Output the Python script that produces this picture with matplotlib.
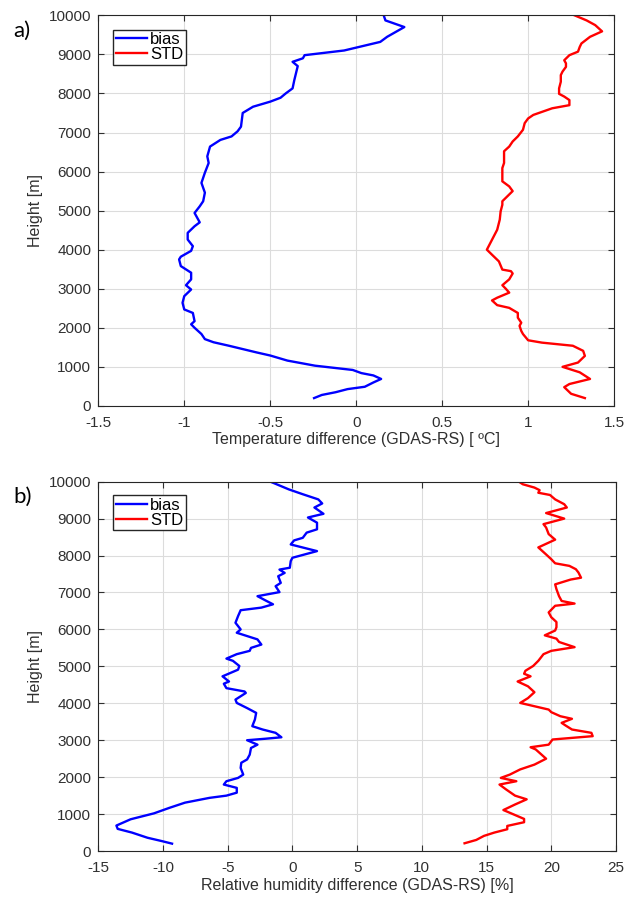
import matplotlib
matplotlib.use('Agg')
import matplotlib.pyplot as plt
import numpy as np

plt.rcParams['font.family'] = ['Liberation Sans', 'DejaVu Sans']
plt.rcParams['axes.unicode_minus'] = False

### Data

# a) temperature bias
t_bias_h = [10000, 9870, 9700, 9450, 9320, 9100, 8980, 8900, 8810, 8700, 8340, 8130, 8000, 7890,
            7790, 7660, 7580, 7500, 7150, 7030, 6900, 6810, 6640, 6390, 6220, 5970, 5710, 5460,
            5240, 5110, 4940, 4700, 4600, 4430, 4260, 4090, 3970, 3820, 3750, 3580, 3410, 3240,
            3090, 2980, 2810, 2640, 2470, 2380, 2170, 2090, 2000, 1840, 1710, 1630, 1540, 1370,
            1290, 1160, 1030, 920, 840, 780, 690, 600, 490, 430, 350, 280, 200]
t_bias = [0.16, 0.17, 0.28, 0.18, 0.14, -0.07, -0.30, -0.31, -0.37, -0.34, -0.36, -0.37, -0.41, -0.44,
          -0.50, -0.60, -0.63, -0.66, -0.67, -0.69, -0.725, -0.79, -0.85, -0.866, -0.858, -0.88, -0.90, -0.88,
          -0.89, -0.91, -0.94, -0.91, -0.94, -0.98, -0.98, -0.95, -0.96, -1.02, -1.03, -1.02, -0.96, -0.96,
          -0.99, -0.96, -1.0, -1.01, -1.0, -0.95, -0.94, -0.96, -0.94, -0.90, -0.88, -0.83, -0.74, -0.58,
          -0.50, -0.40, -0.24, -0.02, 0.03, 0.10, 0.145, 0.10, 0.05, -0.05, -0.12, -0.20, -0.245]

# a) temperature STD
t_std_h = [10000, 9870, 9750, 9590, 9450, 9280, 9190, 9070, 8980, 8850, 8770, 8680, 8560, 8470,
           8300, 8130, 7990, 7920, 7830, 7700, 7620, 7450, 7360, 7240, 7070, 6900, 6770, 6640,
           6520, 6390, 6220, 6090, 5920, 5750, 5620, 5500, 5370, 5240, 5150, 4980, 4770, 4510,
           4340, 4170, 4000, 3870, 3700, 3490, 3450, 3390, 3240, 3090, 3000, 2900, 2770, 2700,
           2580, 2510, 2380, 2260, 2130, 2050, 1920, 1840, 1680, 1620, 1540, 1410, 1280, 1110,
           1000, 860, 690, 560, 480, 310, 200]
t_std = [1.27, 1.34, 1.39, 1.43, 1.36, 1.31, 1.30, 1.29, 1.24, 1.21, 1.22, 1.22, 1.20, 1.19,
         1.19, 1.18, 1.18, 1.21, 1.24, 1.24, 1.14, 1.03, 1.0, 0.98, 0.97, 0.94, 0.91, 0.89,
         0.86, 0.86, 0.86, 0.85, 0.85, 0.85, 0.89, 0.91, 0.88, 0.85, 0.85, 0.84, 0.835, 0.82,
         0.80, 0.78, 0.76, 0.79, 0.83, 0.85, 0.90, 0.91, 0.89, 0.85, 0.87, 0.89, 0.82, 0.79,
         0.82, 0.89, 0.94, 0.94, 0.96, 0.95, 0.96, 0.97, 1.0, 1.08, 1.26, 1.32, 1.33, 1.29,
         1.20, 1.30, 1.36, 1.24, 1.21, 1.25, 1.33]

# b) relative humidity bias
rh_bias_h = [10000, 9790, 9660, 9520, 9410, 9300, 9130, 9030, 8890, 8710, 8620, 8480, 8410, 8300,
             8120, 7940, 7850, 7670, 7620, 7530, 7440, 7260, 7170, 7010, 6900, 6770, 6680, 6590,
             6520, 6360, 6180, 6000, 5910, 5730, 5590, 5500, 5420, 5330, 5210, 5150, 5010, 4910,
             4820, 4730, 4590, 4530, 4410, 4320, 4280, 4100, 4010, 3870, 3740, 3560, 3380, 3290,
             3200, 3080, 3040, 3000, 2880, 2790, 2610, 2480, 2390, 2250, 2070, 1980, 1890, 1800,
             1710, 1580, 1500, 1440, 1310, 1170, 1020, 860, 690, 600, 500, 360, 270, 200]
rh_bias = [-1.7, -0.27, 0.8, 2.0, 2.3, 1.7, 2.4, 1.2, 1.9, 1.9, 1.1, 0.8, 0.13, -0.13,
           1.9, 0.0, -0.13, -0.2, -1.0, -0.6, -1.1, -0.9, -1.3, -1.0, -2.7, -2.0, -1.5, -2.4,
           -4.0, -4.2, -4.4, -4.0, -4.3, -2.7, -2.4, -3.2, -3.3, -4.3, -5.1, -4.6, -4.1, -4.2,
           -4.8, -5.4, -4.9, -5.3, -5.1, -3.7, -3.6, -4.4, -4.3, -3.5, -2.8, -2.9, -3.1, -2.3,
           -1.3, -0.85, -2.1, -3.5, -2.7, -3.2, -3.3, -3.5, -3.95, -4.0, -3.8, -4.2, -5.1, -5.3,
           -4.3, -4.3, -5.1, -6.4, -8.3, -9.5, -10.7, -12.5, -13.6, -13.5, -12.4, -11.2, -10.1, -9.3]

# b) relative humidity STD
rh_std_h = [10000, 9930, 9840, 9770, 9700, 9640, 9520, 9390, 9300, 9150, 9000, 8850, 8760, 8580,
            8430, 8220, 8030, 7900, 7790, 7720, 7630, 7540, 7400, 7350, 7220, 7090, 6900, 6770,
            6700, 6640, 6460, 6330, 6200, 6060, 5970, 5840, 5750, 5660, 5520, 5420, 5330, 5150,
            5010, 4880, 4800, 4730, 4590, 4460, 4300, 4140, 4010, 3830, 3760, 3650, 3580, 3470,
            3400, 3290, 3200, 3110, 3020, 2880, 2810, 2750, 2500, 2340, 2210, 2070, 1980, 1890,
            1800, 1670, 1500, 1400, 1260, 1110, 990, 870, 780, 680, 590, 500, 410, 300, 210]
rh_std = [17.5, 17.8, 18.7, 19.1, 19.0, 19.9, 20.3, 21.0, 21.2, 19.6, 21.0, 19.4, 19.6, 19.8,
          20.3, 19.0, 19.6, 20.0, 20.3, 21.4, 21.9, 22.1, 22.3, 21.5, 20.3, 20.4, 20.6, 20.8,
          21.8, 20.3, 19.8, 20.0, 20.4, 20.4, 20.3, 19.5, 20.4, 20.6, 21.8, 20.0, 19.4, 19.0,
          18.6, 18.0, 17.9, 18.4, 17.4, 18.2, 18.7, 18.2, 17.6, 19.8, 20.0, 20.7, 21.6, 20.8,
          21.1, 21.6, 23.1, 23.2, 20.1, 19.8, 18.4, 18.8, 19.6, 18.7, 17.6, 16.8, 16.1, 17.3,
          16.0, 16.5, 17.2, 18.1, 17.2, 16.3, 17.1, 17.9, 17.9, 16.6, 16.6, 15.6, 14.8, 14.2, 13.3]

y_ticks = np.arange(0, 10001, 1000)

### Figure

fig = plt.figure(figsize=(6.26, 9.02), dpi=100)
ax_a = fig.add_axes([0.157, 0.550, 0.824, 0.433])
ax_b = fig.add_axes([0.157, 0.0565, 0.827, 0.4095])

def style(ax, xlim, xticks, xlabel):
    ax.set_xlim(xlim)
    ax.set_ylim(0, 10000)
    ax.set_xticks(xticks)
    ax.set_yticks(y_ticks)
    ax.grid(True, color='#dcdcdc', linewidth=0.8)
    ax.set_axisbelow(True)
    ax.tick_params(direction='in', top=True, right=True, labelsize=11,
                   colors='#303030', length=4, width=0.8, pad=5)
    ax.tick_params(axis='x', pad=7)
    for s in ax.spines.values():
        s.set_color('#262626')
        s.set_linewidth(0.8)
    ax.set_xlabel(xlabel, fontsize=11.5, color='#303030', labelpad=2)
    ax.set_ylabel('Height [m]', fontsize=11.5, color='#303030', labelpad=4)
    ax.legend(loc='upper left', bbox_to_anchor=(0.029, 0.963), fontsize=12,
              fancybox=False, edgecolor='#262626', framealpha=1,
              handlelength=1.9, handletextpad=0.15, borderpad=0.15,
              labelspacing=0.0, borderaxespad=0)

ax_a.plot(t_bias, t_bias_h, color='#0000ff', lw=1.7, label='bias')
ax_a.plot(t_std, t_std_h, color='#ff0000', lw=1.7, label='STD')
style(ax_a, (-1.5, 1.5), [-1.5, -1, -0.5, 0, 0.5, 1, 1.5],
      'Temperature difference (GDAS-RS) [ ºC]')
ax_a.set_xticklabels(['-1.5', '-1', '-0.5', '0', '0.5', '1', '1.5'])

ax_b.plot(rh_bias, rh_bias_h, color='#0000ff', lw=1.7, label='bias')
ax_b.plot(rh_std, rh_std_h, color='#ff0000', lw=1.7, label='STD')
style(ax_b, (-15, 25), np.arange(-15, 26, 5),
      'Relative humidity difference (GDAS-RS) [%]')

fig.text(0.021, 0.966, 'a)', fontsize=16, family=['Lato', 'DejaVu Sans'], va='center')
fig.text(0.021, 0.449, 'b)', fontsize=16, family=['Lato', 'DejaVu Sans'], va='center')

fig.savefig('out.png', dpi=100)
